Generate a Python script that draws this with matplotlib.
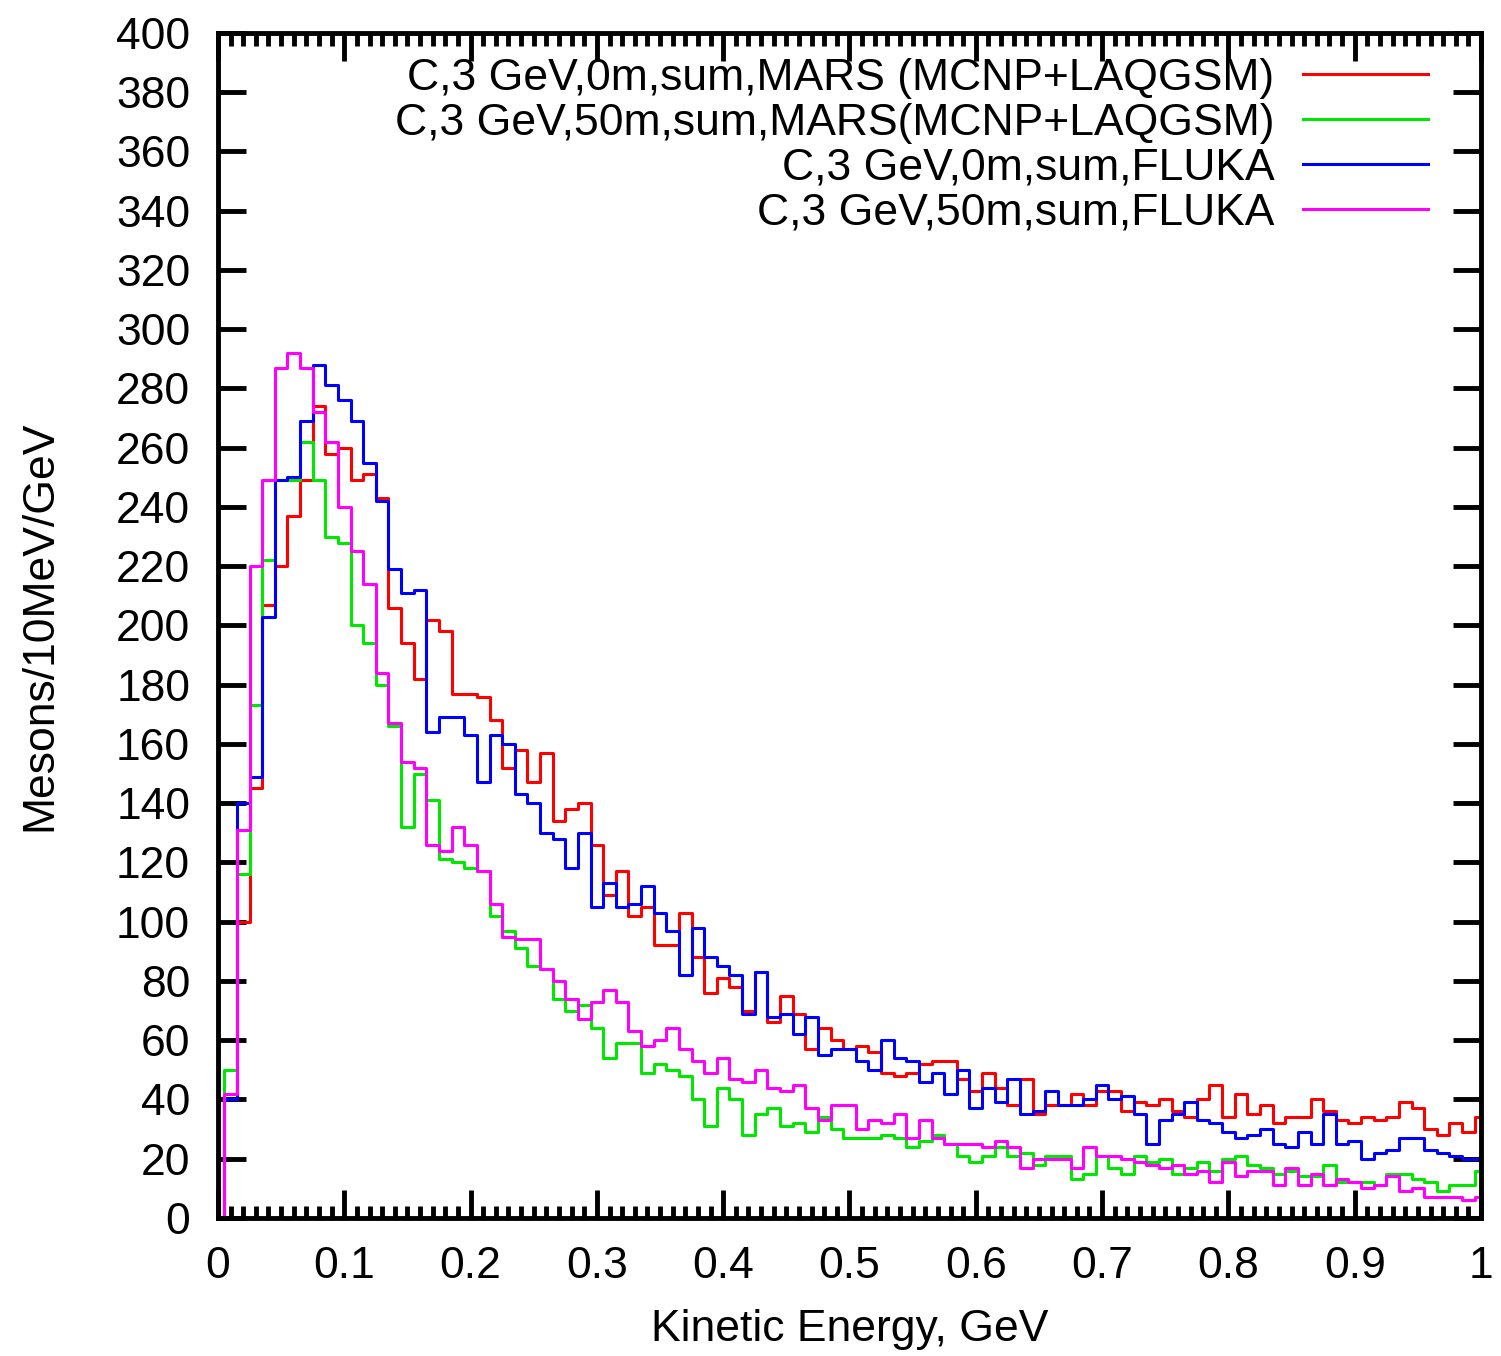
import numpy as np
import matplotlib
matplotlib.use("Agg")
import matplotlib.pyplot as plt
from matplotlib.ticker import MultipleLocator

plt.rcParams['font.family'] = ['Liberation Sans', 'DejaVu Sans']

# bin centres 0.00 .. 1.00 GeV (10 MeV bins), first point is zero
energy = np.round(np.arange(101) * 0.01, 2)

mars_0m = [0,
    40, 100, 145, 207, 220, 237, 249, 274, 258, 260,
    249, 251, 243, 206, 194, 182, 202, 198, 177, 177,
    176, 168, 152, 158, 147, 157, 134, 138, 140, 126,
    109, 117, 102, 105, 92, 92, 103, 88, 76, 81,
    78, 70, 83, 66, 75, 69, 57, 64, 60, 57,
    58, 56, 49, 48, 49, 52, 53, 53, 47, 43,
    49, 44, 38, 47, 35, 38, 38, 42, 38, 43,
    43, 36, 39, 38, 40, 36, 34, 40, 45, 34,
    42, 35, 38, 32, 34, 34, 40, 36, 33, 32,
    34, 33, 34, 39, 37, 30, 28, 32, 29, 34]

mars_50m = [0,
    50, 116, 173, 222, 249, 249, 262, 249, 230, 228,
    200, 194, 180, 166, 132, 150, 141, 121, 120, 118,
    117, 102, 97, 91, 85, 84, 74, 70, 72, 64,
    54, 59, 59, 49, 52, 50, 48, 40, 31, 44,
    40, 28, 35, 37, 31, 32, 29, 34, 30, 27,
    27, 27, 28, 27, 24, 26, 28, 25, 21, 19,
    21, 24, 21, 22, 18, 21, 21, 13, 15, 21,
    17, 15, 21, 19, 20, 15, 17, 19, 16, 20,
    21, 18, 17, 15, 16, 14, 14, 18, 12, 12,
    12, 11, 15, 15, 13, 12, 9, 11, 11, 16]

fluka_0m = [0,
    40, 140, 149, 203, 249, 250, 269, 288, 281, 276,
    269, 255, 242, 219, 211, 212, 164, 169, 169, 163,
    147, 163, 160, 143, 140, 130, 128, 118, 130, 105,
    113, 105, 106, 112, 103, 97, 82, 98, 88, 85,
    82, 69, 83, 68, 69, 62, 68, 55, 57, 57,
    53, 50, 60, 54, 53, 46, 49, 42, 50, 37,
    44, 39, 47, 35, 36, 43, 38, 38, 40, 45,
    40, 41, 35, 25, 33, 35, 39, 33, 32, 29,
    27, 28, 30, 25, 24, 29, 25, 35, 25, 26,
    20, 22, 23, 27, 27, 23, 22, 21, 20, 20]

fluka_50m = [0,
    42, 131, 220, 249, 287, 292, 287, 272, 262, 240,
    225, 214, 184, 167, 154, 152, 126, 124, 132, 126,
    117, 106, 95, 94, 94, 84, 80, 74, 67, 73,
    77, 73, 63, 58, 60, 64, 57, 53, 49, 54,
    47, 46, 50, 44, 43, 45, 37, 33, 38, 38,
    30, 33, 32, 35, 27, 33, 27, 25, 25, 25,
    24, 26, 24, 17, 20, 20, 20, 17, 24, 21,
    21, 20, 19, 18, 17, 18, 15, 16, 12, 19,
    14, 16, 16, 11, 17, 11, 15, 11, 13, 12,
    10, 11, 14, 9, 10, 7, 7, 7, 6, 7]

labels = ['C,3 GeV,0m,sum,MARS (MCNP+LAQGSM)',
          'C,3 GeV,50m,sum,MARS(MCNP+LAQGSM)',
          'C,3 GeV,0m,sum,FLUKA',
          'C,3 GeV,50m,sum,FLUKA']
colors = ['#ff0000', '#00e800', '#0000ff', '#ff00ff']
series = [mars_0m, mars_50m, fluka_0m, fluka_50m]
xtick_labels = ['0', '0.1', '0.2', '0.3', '0.4', '0.5', '0.6', '0.7', '0.8', '0.9', '1']

fs = 32
fig = plt.figure(figsize=(15.01, 13.56), dpi=100)
ax = fig.add_axes([0.1452, 0.1018, 0.9867 - 0.1452, 0.9757 - 0.1018])

for vals, lab, col in zip(series, labels, colors):
    ax.step(energy, vals, where='mid', color=col, lw=2.2, label=lab)

ax.set_xlim(0, 1)
ax.set_ylim(0, 400)
ax.set_xticks(np.round(np.arange(0, 1.01, 0.1), 1))
ax.set_xticklabels(xtick_labels)
ax.xaxis.set_minor_locator(MultipleLocator(0.01))
ax.yaxis.set_major_locator(MultipleLocator(20))

ax.tick_params(which='major', direction='in', length=20, width=3.5,
               top=True, right=True, labelsize=fs, pad=20)
ax.tick_params(which='minor', direction='in', length=9, width=3.5,
               top=True, right=False, left=False)
for sp in ax.spines.values():
    sp.set_linewidth(3.5)

ax.set_xlabel('Kinetic Energy, GeV', fontsize=fs, labelpad=16)
ax.set_ylabel('Mesons/10MeV/GeV', fontsize=fs, labelpad=40)

ax.legend(loc='upper right', bbox_to_anchor=(0.986, 1.009), frameon=False,
          fontsize=fs, markerfirst=False, handlelength=2.8,
          handletextpad=0.65, labelspacing=0.09, borderpad=0.3)

fig.savefig('out.png', dpi=100)
